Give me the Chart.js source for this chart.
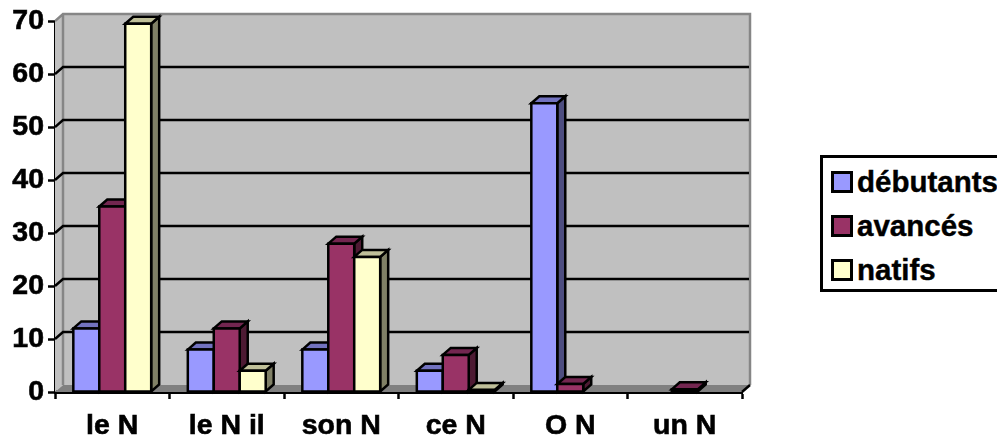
<!DOCTYPE html>
<html lang="fr">
<head>
<meta charset="utf-8">
<title>Déterminants</title>
<script src="https://cdn.jsdelivr.net/npm/chart.js@4/dist/chart.umd.min.js"></script>
<style>
  html,body{margin:0;padding:0;background:#fff;overflow:hidden}
  #wrap{position:relative;width:997px;height:439px;overflow:hidden}
  #chart{position:absolute;left:0;top:0}
  #legend{position:absolute;left:820px;top:155px;width:190px;height:131px;border:3px solid #000;background:#fff;
    font:bold 29.5px "Liberation Sans",Arial,sans-serif;color:#000;-webkit-text-stroke:.4px #000}
  #legend div{position:absolute;left:34px;white-space:nowrap;line-height:32px}
  #legend i{position:absolute;left:-26px;top:5px;width:16px;height:16px;border:3px solid #000}
</style>
</head>
<body>
<div id="wrap">
  <canvas id="chart" width="997" height="439"></canvas>
  <div id="legend"></div>
</div>
<script>
const CATEGORIES = ["le N","le N il","son N","ce N","O N","un N"];
const SERIES_NAMES = ["débutants","avancés","natifs"];
const DEBUTANTS = [12, 8, 8, 4, 54.5, null];
const AVANCES   = [35, 12, 28, 7, 1.5, 0.5];
const NATIFS    = [69.5, 4, 25.5, 0.4, null, null];
const Y_TICKS   = [0,10,20,30,40,50,60,70];

const FRONT = ["#9999ff","#993366","#ffffcc"];
const TOPS  = ["#7272bf","#732650","#bfbf99"];
const SIDES = ["#4d4d80","#4d1a33","#808066"];
const FONT = {family:'"Liberation Sans", Arial, sans-serif', size:28.5, weight:"bold"};

// depth of the fake 3d box (walls) and of the bars
const WALL_DX = 8, WALL_DY = 7;
const BAR_DX = 8, BAR_DY = 7;

function poly(ctx, pts, fill, stroke, lw){
  ctx.beginPath();
  pts.forEach((p,i)=> i ? ctx.lineTo(p[0],p[1]) : ctx.moveTo(p[0],p[1]));
  ctx.closePath();
  if(fill){ ctx.fillStyle = fill; ctx.fill(); }
  if(stroke){ ctx.strokeStyle = stroke; ctx.lineWidth = lw; ctx.stroke(); }
}

// back wall, left wall, floor and gridlines, drawn from the scales
const walls = {
  id:"walls",
  beforeDatasetsDraw(chart){
    const {ctx, chartArea:a, scales:{y}} = chart;
    ctx.save();
    poly(ctx, [[a.left,a.top],[a.left+WALL_DX,a.top-WALL_DY],[a.left+WALL_DX,a.bottom-WALL_DY],[a.left,a.bottom]], "#c0c0c0");
    ctx.fillStyle = "#c0c0c0";
    ctx.fillRect(a.left+WALL_DX, a.top-WALL_DY, a.width, a.height);
    poly(ctx, [[a.left,a.bottom],[a.right,a.bottom],[a.right+WALL_DX,a.bottom-WALL_DY],[a.left+WALL_DX,a.bottom-WALL_DY]], "#808080");
    // wall edges
    ctx.strokeStyle = "#868686"; ctx.lineWidth = 2.5;
    ctx.beginPath();
    ctx.moveTo(a.left,a.top);
    ctx.lineTo(a.left+WALL_DX,a.top-WALL_DY);
    ctx.lineTo(a.right+WALL_DX,a.top-WALL_DY);
    ctx.lineTo(a.right+WALL_DX,a.bottom-WALL_DY);
    ctx.moveTo(a.left+WALL_DX,a.top-WALL_DY);
    ctx.lineTo(a.left+WALL_DX,a.bottom-WALL_DY);
    ctx.stroke();
    // gridlines
    ctx.strokeStyle = "#000"; ctx.lineWidth = 2.5;
    Y_TICKS.slice(1,-1).forEach(v=>{
      const py = y.getPixelForValue(v);
      ctx.beginPath();
      ctx.moveTo(a.left,py);
      ctx.lineTo(a.left+WALL_DX,py-WALL_DY);
      ctx.lineTo(a.right+WALL_DX-1,py-WALL_DY);
      ctx.stroke();
    });
    // little diagonal at the bottom right corner
    ctx.beginPath();
    ctx.moveTo(a.right,a.bottom);
    ctx.lineTo(a.right+WALL_DX,a.bottom-WALL_DY);
    ctx.stroke();
    ctx.restore();
  }
};

// chart.js draws last dataset first, here we need the first one at the back
const bars3d = {
  id:"bars3d",
  beforeDatasetDraw(){ return false; },
  afterDatasetsDraw(chart){
    const ctx = chart.ctx;
    ctx.save();
    ctx.lineJoin = "miter";
    chart.data.datasets.forEach((ds,i)=>{
      chart.getDatasetMeta(i).data.forEach((el,j)=>{
        if(ds.data[j] == null) return;
        const l = el.x - el.width/2, r = el.x + el.width/2, t = el.y, b = el.base;
        poly(ctx, [[r,t],[r+BAR_DX,t-BAR_DY],[r+BAR_DX,b-BAR_DY],[r,b]], SIDES[i], "#000", 2.5);
        poly(ctx, [[l,t],[l+BAR_DX,t-BAR_DY],[r+BAR_DX,t-BAR_DY],[r,t]], TOPS[i], "#000", 2.5);
        poly(ctx, [[l,t],[r,t],[r,b],[l,b]], FRONT[i], "#000", 2.5);
      });
    });
    ctx.restore();
  }
};

new Chart(document.getElementById("chart"), {
  type:"bar",
  data:{
    labels:CATEGORIES,
    datasets:[DEBUTANTS,AVANCES,NATIFS].map((d,i)=>({
      label:SERIES_NAMES[i], data:d, backgroundColor:FRONT[i], borderColor:"#000", borderWidth:2,
      categoryPercentage:0.68, barPercentage:1
    }))
  },
  options:{
    responsive:false,
    animation:false,
    layout:{padding:{top:21,right:255,left:0,bottom:0}},
    plugins:{legend:{display:false},tooltip:{enabled:false}},
    scales:{
      x:{
        grid:{drawOnChartArea:false,drawTicks:true,tickLength:7,tickWidth:2.5,tickColor:"#000",offset:true},
        border:{display:true,color:"#000",width:3},
        ticks:{color:"#000",font:FONT,padding:10,maxRotation:0,textStrokeColor:"#000",textStrokeWidth:0.6},
        afterFit(s){ s.height = 47; }
      },
      y:{
        min:0,max:70,
        afterBuildTicks(s){ s.ticks = Y_TICKS.map(v=>({value:v})); },
        grid:{drawOnChartArea:false,drawTicks:true,tickLength:7,tickWidth:2.5,tickColor:"#000"},
        border:{display:true,color:"#000",width:3},
        ticks:{color:"#000",font:FONT,padding:4,textStrokeColor:"#000",textStrokeWidth:0.6},
        afterFit(s){ s.width = 55; }
      }
    }
  },
  plugins:[walls,bars3d]
});

// legend box
const legend = document.getElementById("legend");
SERIES_NAMES.forEach((name,i)=>{
  const row = document.createElement("div");
  row.style.top = (8 + i*44) + "px";
  row.innerHTML = `<i style="background:${FRONT[i]}"></i>${name}`;
  legend.appendChild(row);
});
</script>
</body>
</html>
